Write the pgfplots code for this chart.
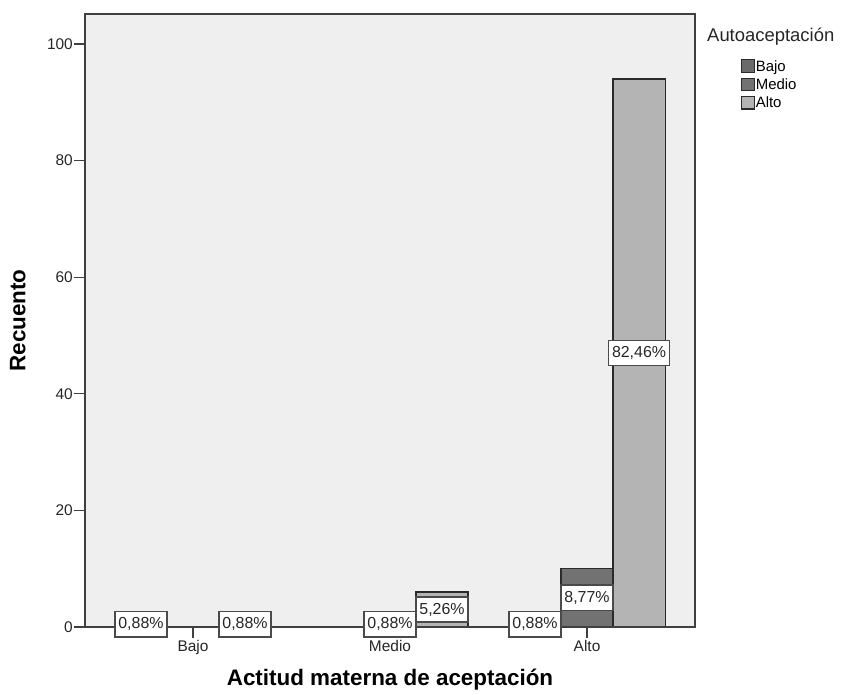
\documentclass[border=0pt]{standalone}
\usepackage{pgfplots}
\pgfplotsset{compat=1.18}
\usepackage{fontspec}
\setmainfont{Liberation Sans}
\definecolor{bgc}{HTML}{EFEFEF}
\definecolor{cbajo}{HTML}{6A6A6A}
\definecolor{cmedio}{HTML}{727272}
\definecolor{calto}{HTML}{B4B4B4}
\definecolor{edge}{HTML}{2A2A2A}
\definecolor{lblbox}{HTML}{4A4A4A}
\definecolor{axc}{HTML}{404040}
\begin{document}
\begin{tikzpicture}
\begin{axis}[
  scale only axis,
  width=610bp, height=613bp,
  xmin=-0.548, xmax=2.548,
  ymin=0, ymax=105.15,
  xtick={0,1,2},
  xticklabels={Bajo,Medio,Alto},
  ytick={0,20,40,60,80,100},
  /pgf/number format/assume math mode=true,
  tick align=outside,
  major tick length=11bp,
  tick style={draw=axc, line width=1.2bp},
  xtick pos=bottom, ytick pos=left,
  axis line style={draw=axc, line width=1.3bp},
  axis background/.style={fill=bgc},
  axis on top,
  clip=false,
  ticklabel style={font=\fontsize{15.5}{17}\selectfont, text=black!85},
  yticklabel style={inner sep=1bp},
  xticklabel style={inner sep=2.5bp},
  xlabel={Actitud materna de aceptación},
  ylabel={Recuento},
  label style={font=\bfseries\fontsize{22.5}{25}\selectfont},
  xlabel style={at={(rel axis cs:0.5,0)}, anchor=north, yshift=-39bp},
  ylabel style={at={(rel axis cs:0,0.5)}, anchor=south, yshift=56bp},
  legend style={
    at={(rel axis cs:1,1)}, anchor=north west,
    xshift=46bp, yshift=-45bp,
    draw=none, fill=none,
    inner sep=0pt,
    row sep=4bp,
    font=\fontsize{15}{16}\selectfont,
    nodes={inner sep=1bp},
  },
  legend cell align=left,
  legend image code/.code={\draw[#1] (0bp,-6bp) rectangle (12.5bp,6.5bp);},
]
\addplot[ybar, bar width=0.264, bar shift=0pt, fill=cbajo, draw=edge, line width=1.1bp]
  coordinates {(-0.264,1) (1.736,1)};
\addlegendentry{Bajo}
\addplot[ybar, bar width=0.264, bar shift=0pt, fill=cmedio, draw=edge, line width=1.1bp]
  coordinates {(1,1) (2,10)};
\addlegendentry{Medio}
\addplot[ybar, bar width=0.264, bar shift=0pt, fill=calto, draw=edge, line width=1.1bp]
  coordinates {(0.264,1) (1.264,6) (2.264,94)};
\addlegendentry{Alto}
\addplot[forget plot, draw=none, mark=none,
  nodes near coords, point meta=explicit symbolic,
  every node near coord/.style={anchor=center, fill=white, draw=lblbox,
    line width=1.7bp, inner xsep=3.5bp, inner ysep=6bp, text=black!85,
    font=\fontsize{16}{17}\selectfont}]
  coordinates {
    (-0.264,0.5) [0,88\%]
    (0.264,0.5) [0,88\%]
    (1,0.5) [0,88\%]
    (1.264,3) [5,26\%]
    (1.736,0.5) [0,88\%]
    (2,5) [8,77\%]
    (2.264,47) [82,46\%]
  };
\node[anchor=north west, inner sep=0pt, font=\fontsize{18.5}{20}\selectfont, text=black!85]
  at ([xshift=12bp, yshift=-14bp]rel axis cs:1,1) {Autoaceptación};
\end{axis}
\pgfresetboundingbox
\path (-85bp,-68bp) rectangle (758bp,627bp);
\end{tikzpicture}
\end{document}
